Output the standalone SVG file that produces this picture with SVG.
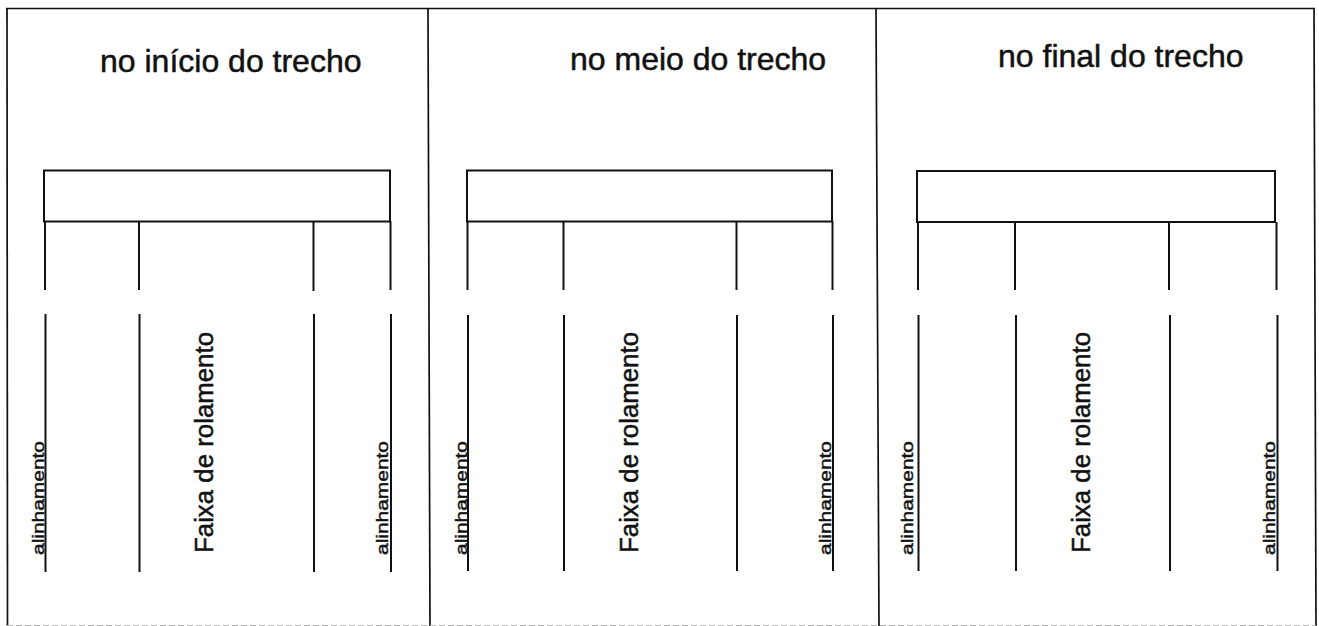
<svg xmlns="http://www.w3.org/2000/svg" width="1319" height="626" viewBox="0 0 1319 626">
<style>
.ln{stroke:#111;stroke-width:2;fill:none;stroke-linecap:butt}
.frame{stroke:#111;stroke-width:1.7;fill:none}
.t{font-family:"Liberation Sans",Arial,sans-serif;fill:#111;stroke:#111}
.title{font-size:32px;stroke-width:0.5}
.al{font-size:17px;stroke-width:0.45}
.fx{font-size:26px;stroke-width:0.5}
</style>
<rect width="1319" height="626" fill="#fff"/>
<g id="frame">
<line class="frame" x1="6" y1="8.5" x2="1315" y2="8.5"/>
<line class="frame" x1="7" y1="8" x2="7.5" y2="626"/>
<line class="frame" x1="428" y1="8" x2="430" y2="626"/>
<line class="frame" x1="876" y1="8" x2="879" y2="626"/>
<line class="frame" x1="1314" y1="8" x2="1316" y2="626"/>
<line x1="7" y1="625.5" x2="1316" y2="625.5" stroke="#bbb" stroke-width="1" stroke-dasharray="6 3"/>
</g>
<g id="panel1">
<text class="t title" x="100" y="72">no início do trecho</text>
<rect class="ln" x="44" y="170.5" width="346" height="51"/>
<g>
<line class="ln" x1="45" y1="221" x2="45" y2="290"/>
<line class="ln" x1="139" y1="221" x2="139" y2="290"/>
<line class="ln" x1="313.5" y1="221" x2="313.5" y2="291"/>
<line class="ln" x1="390.5" y1="221" x2="390.5" y2="290"/>
<line class="ln" x1="45.5" y1="314" x2="45.5" y2="572"/>
<line class="ln" x1="139.5" y1="314" x2="139.5" y2="572"/>
<line class="ln" x1="314" y1="314" x2="314" y2="572"/>
<line class="ln" x1="391" y1="314" x2="391" y2="572"/>
</g>
<text class="t al" transform="translate(43.5,555) rotate(-90)" textLength="114" lengthAdjust="spacingAndGlyphs">alinhamento</text>
<text class="t fx" transform="translate(213,553) rotate(-90)" textLength="221" lengthAdjust="spacingAndGlyphs">Faixa de rolamento</text>
<text class="t al" transform="translate(388,555) rotate(-90)" textLength="114" lengthAdjust="spacingAndGlyphs">alinhamento</text>
</g>
<g id="panel2">
<text class="t title" x="570" y="70">no meio do trecho</text>
<rect class="ln" x="467" y="170.5" width="365" height="51"/>
<g>
<line class="ln" x1="467.5" y1="221" x2="467.5" y2="290"/>
<line class="ln" x1="563.5" y1="221" x2="563.5" y2="290"/>
<line class="ln" x1="736.5" y1="221" x2="736.5" y2="290"/>
<line class="ln" x1="832.5" y1="221" x2="832.5" y2="290"/>
<line class="ln" x1="468" y1="315" x2="468" y2="571"/>
<line class="ln" x1="564" y1="315" x2="564" y2="571"/>
<line class="ln" x1="737" y1="315" x2="737" y2="571"/>
<line class="ln" x1="833" y1="315" x2="833" y2="571"/>
</g>
<text class="t al" transform="translate(466.5,555) rotate(-90)" textLength="114" lengthAdjust="spacingAndGlyphs">alinhamento</text>
<text class="t fx" transform="translate(638,553) rotate(-90)" textLength="221" lengthAdjust="spacingAndGlyphs">Faixa de rolamento</text>
<text class="t al" transform="translate(831,555) rotate(-90)" textLength="114" lengthAdjust="spacingAndGlyphs">alinhamento</text>
</g>
<g id="panel3">
<text class="t title" x="998" y="67">no final do trecho</text>
<rect class="ln" x="917" y="171" width="358" height="51"/>
<g>
<line class="ln" x1="918" y1="222" x2="918" y2="290"/>
<line class="ln" x1="1015" y1="222" x2="1015" y2="290"/>
<line class="ln" x1="1169" y1="222" x2="1169" y2="290"/>
<line class="ln" x1="1276.5" y1="222" x2="1276.5" y2="290"/>
<line class="ln" x1="918.5" y1="315" x2="918.5" y2="571"/>
<line class="ln" x1="1016" y1="315" x2="1016" y2="571"/>
<line class="ln" x1="1170" y1="315" x2="1170" y2="571"/>
<line class="ln" x1="1277.5" y1="315" x2="1277.5" y2="571"/>
</g>
<text class="t al" transform="translate(913,555) rotate(-90)" textLength="114" lengthAdjust="spacingAndGlyphs">alinhamento</text>
<text class="t fx" transform="translate(1090,553) rotate(-90)" textLength="221" lengthAdjust="spacingAndGlyphs">Faixa de rolamento</text>
<text class="t al" transform="translate(1275,555) rotate(-90)" textLength="114" lengthAdjust="spacingAndGlyphs">alinhamento</text>
</g>
</svg>
